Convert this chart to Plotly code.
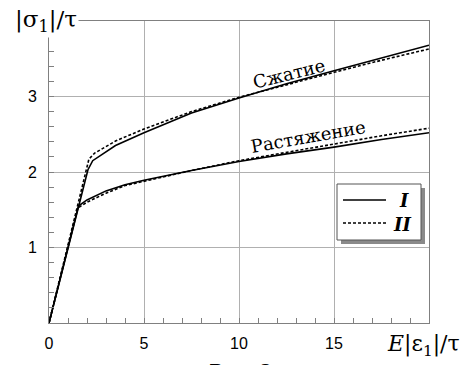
import plotly.graph_objects as go

# Data
comp_I_x = [0, 2.05, 2.3, 2.7, 3.5, 5, 7.5, 10, 12.5, 15, 17.5, 20]
comp_I_y = [0, 2.03, 2.15, 2.22, 2.35, 2.52, 2.78, 2.98, 3.17, 3.34, 3.51, 3.68]
comp_II_x = [0, 2.1, 2.4, 3.5, 5, 7.5, 10, 12.5, 15, 17.5, 20]
comp_II_y = [0, 2.17, 2.25, 2.41, 2.57, 2.8, 2.99, 3.16, 3.32, 3.48, 3.63]
tens_I_x = [0, 1.55, 2, 3, 4, 5, 7.5, 10, 12.5, 15, 17.5, 20]
tens_I_y = [0, 1.55, 1.63, 1.75, 1.83, 1.89, 2.02, 2.14, 2.24, 2.33, 2.43, 2.52]
tens_II_x = [0, 1.5, 2, 3, 4, 5, 7.5, 10, 12.5, 15, 17.5, 20]
tens_II_y = [0, 1.52, 1.6, 1.72, 1.82, 1.88, 2.02, 2.15, 2.26, 2.37, 2.48, 2.58]

x_ticks = [0, 5, 10, 15, 20]
x_tick_text = ["0", "5", "10", "15", ""]
y_ticks = [0, 1, 2, 3, 4]
y_tick_text = ["", "1", "2", "3", ""]

W, H = 461, 365
L, R, T, B = 49, 429, 21, 323


def px(x):
    return (x - L) / (R - L)


def py(y):
    return (B - y) / (B - T)


fig = go.Figure()
line_w = 1.6
fig.add_trace(go.Scatter(x=comp_I_x, y=comp_I_y, mode="lines",
                         line=dict(color="black", width=line_w), showlegend=False))
fig.add_trace(go.Scatter(x=comp_II_x, y=comp_II_y, mode="lines",
                         line=dict(color="black", width=line_w, dash="3px,2px"), showlegend=False))
fig.add_trace(go.Scatter(x=tens_I_x, y=tens_I_y, mode="lines",
                         line=dict(color="black", width=line_w), showlegend=False))
fig.add_trace(go.Scatter(x=tens_II_x, y=tens_II_y, mode="lines",
                         line=dict(color="black", width=line_w, dash="3px,2px"), showlegend=False))

axis_col = "#808080"
grid_col = "#b0b0b0"
tickfont = dict(family="Liberation Sans", size=16, color="black")

fig.update_xaxes(range=[0, 20], tickmode="array", tickvals=x_ticks, ticktext=x_tick_text,
                 showgrid=True, gridcolor=grid_col, gridwidth=1,
                 showline=True, linecolor=axis_col, linewidth=1, mirror=True,
                 ticks="inside", ticklen=5, tickcolor=axis_col, tickfont=tickfont,
                 ticklabelstandoff=6,
                 minor=dict(tickmode="linear", tick0=0, dtick=1, ticks="inside", ticklen=5,
                            tickcolor=axis_col, showgrid=False),
                 zeroline=False, fixedrange=True)
fig.update_yaxes(range=[0, 4], tickmode="array", tickvals=y_ticks, ticktext=y_tick_text,
                 showgrid=True, gridcolor=grid_col, gridwidth=1,
                 showline=True, linecolor=axis_col, linewidth=1, mirror=True,
                 ticks="inside", ticklen=5, tickcolor=axis_col, tickfont=tickfont,
                 ticklabelstandoff=8,
                 minor=dict(tickmode="linear", tick0=0, dtick=0.2, ticks="inside", ticklen=5,
                            tickcolor=axis_col, showgrid=False),
                 zeroline=False, fixedrange=True)

serif = "DejaVu Serif"
ann = []
# axis titles
ann.append(dict(x=px(79), y=py(21), xref="paper", yref="paper", text="|σ<sub>1</sub>|/τ",
                showarrow=False, font=dict(family=serif, size=23, color="black"),
                bgcolor="white", xanchor="right", yanchor="middle", borderpad=1))
ann.append(dict(x=px(462), y=py(345), xref="paper", yref="paper",
                text="<i>E</i>|ε<sub>1</sub>|/τ",
                showarrow=False, font=dict(family=serif, size=22, color="black"),
                xanchor="right", yanchor="middle"))
# curve labels
ann.append(dict(x=px(289), y=py(73), xref="paper", yref="paper", text="Сжатие",
                showarrow=False, textangle=-14, xanchor="center", yanchor="middle",
                font=dict(family=serif, size=18, color="black")))
ann.append(dict(x=px(308), y=py(136), xref="paper", yref="paper", text="Растяжение",
                showarrow=False, textangle=-10, xanchor="center", yanchor="middle",
                font=dict(family=serif, size=18, color="black")))
# legend labels
ann.append(dict(x=px(404), y=py(200), xref="paper", yref="paper", text="<b><i>I</i></b>",
                showarrow=False, font=dict(family=serif, size=18, color="black"),
                xanchor="center", yanchor="middle"))
ann.append(dict(x=px(402), y=py(224), xref="paper", yref="paper", text="<b><i>II</i></b>",
                showarrow=False, font=dict(family=serif, size=18, color="black"),
                xanchor="center", yanchor="middle"))
# caption (cut by the bottom edge, as in the reference)
ann.append(dict(x=px(240), y=py(358), xref="paper", yref="paper", text="Рис. 2",
                showarrow=False, font=dict(family=serif, size=20, color="black"),
                xanchor="center", yanchor="top"))

shapes = []
shapes.append(dict(type="rect", xref="paper", yref="paper",
                   x0=px(341), x1=px(425), y0=py(244), y1=py(188),
                   fillcolor="#8a8a8a", line=dict(width=0)))
shapes.append(dict(type="rect", xref="paper", yref="paper",
                   x0=px(337), x1=px(421), y0=py(240), y1=py(184),
                   fillcolor="white", line=dict(color="#555555", width=1)))
shapes.append(dict(type="line", xref="paper", yref="paper",
                   x0=px(343), x1=px(386), y0=py(200), y1=py(200),
                   line=dict(color="black", width=1.6)))
shapes.append(dict(type="line", xref="paper", yref="paper",
                   x0=px(343), x1=px(386), y0=py(223), y1=py(223),
                   line=dict(color="black", width=1.6, dash="3px,2px")))

fig.update_layout(width=W, height=H, margin=dict(l=L, r=W - R, t=T, b=H - B),
                  paper_bgcolor="white", plot_bgcolor="white",
                  annotations=ann, shapes=shapes, showlegend=False)

fig.write_html("out.html", config={"displayModeBar": False})
